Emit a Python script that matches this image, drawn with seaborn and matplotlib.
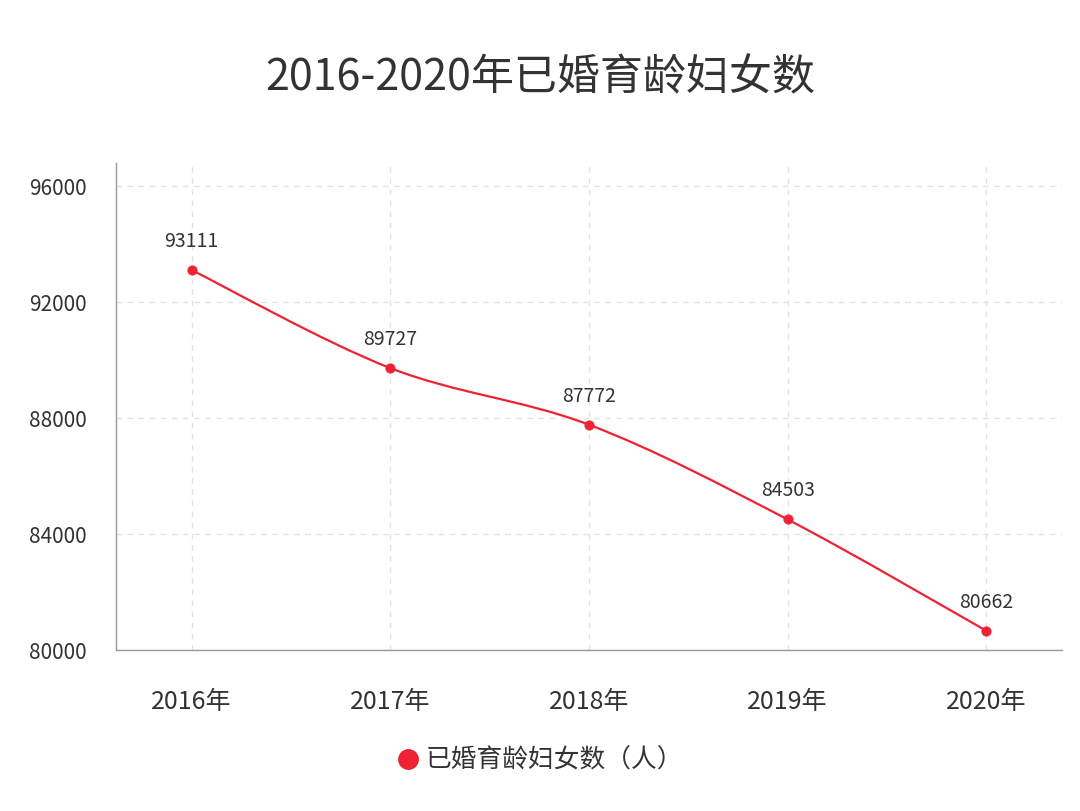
import matplotlib
matplotlib.use("Agg")
import matplotlib.pyplot as plt
import seaborn as sns
import numpy as np
import pandas as pd
from matplotlib.path import Path
from matplotlib.patches import PathPatch
from matplotlib.lines import Line2D

years = ["2016年", "2017年", "2018年", "2019年", "2020年"]
values = [93111, 89727, 87772, 84503, 80662]
yticks = [80000, 84000, 88000, 92000, 96000]
series_name = "已婚育龄妇女数（人）"
title = "2016-2020年已婚育龄妇女数"
red = "#EE2233"

sns.set_theme(style="white")
plt.rcParams['font.family'] = ['Noto Sans CJK SC', 'DejaVu Sans']

df = pd.DataFrame({"year": years, "value": values})
df["x"] = np.arange(len(years))

fig = plt.figure(figsize=(10.8, 8.11), dpi=100)
ax = fig.add_axes([0.1074, 0.1985, 0.8759, 0.6005])

# smooth curve through data (Catmull-Rom -> cubic Bezier)
xs = df["x"].to_numpy(dtype=float)
ys = df["value"].to_numpy(dtype=float)
verts = [(xs[0], ys[0])]
codes = [Path.MOVETO]
t = 0.5 / 3.0
for i in range(len(xs) - 1):
    p0 = (xs[max(i - 1, 0)], ys[max(i - 1, 0)])
    p1 = (xs[i], ys[i])
    p2 = (xs[i + 1], ys[i + 1])
    p3 = (xs[min(i + 2, len(xs) - 1)], ys[min(i + 2, len(xs) - 1)])
    c1 = (p1[0] + (p2[0] - p0[0]) * t, p1[1] + (p2[1] - p0[1]) * t)
    c2 = (p2[0] - (p3[0] - p1[0]) * t, p2[1] - (p3[1] - p1[1]) * t)
    verts += [c1, c2, p2]
    codes += [Path.CURVE4] * 3
ax.add_patch(PathPatch(Path(verts, codes), facecolor="none", edgecolor=red, lw=1.6, zorder=3))

sns.scatterplot(data=df, x="x", y="value", color=red, s=45, edgecolor=red, ax=ax, zorder=4, legend=False)

for xv, yv in zip(xs, ys):
    ax.annotate(f"{int(yv)}", (xv, yv), xytext=(0, 13), textcoords="offset points",
                ha="center", va="bottom", fontsize=14, color="#333333")

ax.set_xlim(-0.38, 4.38)
ax.set_ylim(80000, 96800)
ax.set_xticks(xs)
ax.set_xticklabels(years)
ax.set_yticks(yticks)
ax.set_yticklabels([str(v) for v in yticks])
ax.set_xlabel("")
ax.set_ylabel("")
ax.tick_params(axis="both", colors="#333333")
ax.tick_params(axis="x", labelsize=18, length=5, width=1, color="#999999", direction="out", pad=23)
ax.tick_params(axis="y", labelsize=15, length=5, width=1, color="#999999", direction="out", pad=16)
ax.grid(True, linestyle=(0, (4, 4)), color="#e3e3e3", lw=1)
for s in ["top", "right"]:
    ax.spines[s].set_visible(False)
for s in ["left", "bottom"]:
    ax.spines[s].set_color("#999999")
    ax.spines[s].set_linewidth(1)

fig.text(0.5, 0.904, title, ha="center", va="center", fontsize=31, color="#333333")

handle = Line2D([], [], marker="o", linestyle="none", color=red, markersize=14)
fig.legend([handle], [series_name], loc="center", bbox_to_anchor=(0.493, 0.062),
           frameon=False, fontsize=18.5, handletextpad=-0.3, labelcolor="#333333")

fig.savefig("out.png", dpi=100)
